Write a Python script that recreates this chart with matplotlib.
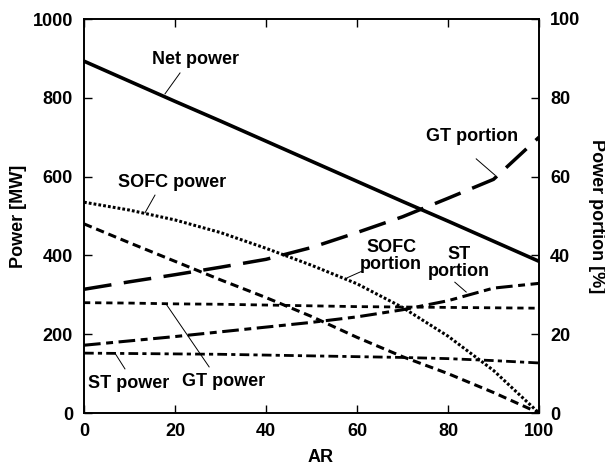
import numpy as np
import matplotlib.pyplot as plt

# === Data ===
AR = [0, 10, 20, 30, 40, 50, 60, 70, 80, 90, 100]

net_power = [893, 842, 791, 741, 690, 639, 588, 537, 487, 436, 385]        # MW
sofc_power = [535, 515, 490, 458, 418, 375, 328, 268, 195, 108, 0]         # MW
gt_power = [280, 279, 277, 276, 274, 272, 270, 269, 268, 267, 266]          # MW
st_power = [152, 151, 150, 149, 147, 145, 143, 141, 138, 133, 127]          # MW

sofc_portion = [48.0, 43.2, 38.5, 33.8, 29.3, 24.5, 19.2, 14.3, 10.0, 5.2, 0.0]   # %
gt_portion = [31.4, 33.3, 35.1, 37.0, 39.0, 42.0, 45.8, 49.8, 54.5, 59.3, 70.0]  # %
st_portion = [17.2, 18.3, 19.4, 20.6, 21.8, 23.0, 24.4, 26.2, 28.5, 31.7, 32.9]  # %

# === Style ===
plt.rcParams['font.family'] = ['Liberation Sans', 'DejaVu Sans']
plt.rcParams['font.weight'] = 'bold'
plt.rcParams['font.size'] = 13
plt.rcParams['lines.scale_dashes'] = False

fig = plt.figure(figsize=(6.05, 4.68), dpi=100)
ax = fig.add_axes([84 / 605, 1 - 413 / 468, 455 / 605, 394 / 468])
ax2 = ax.twinx()

# left axis: power
ax.plot(AR, net_power, color='black', lw=2.6, solid_capstyle='butt')
ax.plot(AR, sofc_power, color='black', lw=2.2, linestyle=(0, (2, 1.5)))
ax.plot(AR, gt_power, color='black', lw=2.0, linestyle=(0, (4.5, 3.5)))
ax.plot(AR, st_power, color='black', lw=2.0, linestyle=(0, (7, 3, 3, 3)))

# right axis: portion
ax2.plot(AR, sofc_portion, color='black', lw=2.2, linestyle=(0, (6, 3.5)))
ax2.plot(AR, gt_portion, color='black', lw=2.5, linestyle=(0, (20, 9)))
ax2.plot(AR, st_portion, color='black', lw=2.2, linestyle=(0, (12, 4, 5, 4)))

ax.set_xlim(0, 100)
ax.set_ylim(0, 1000)
ax2.set_ylim(0, 100)
ax.set_xticks(np.arange(0, 101, 20))
ax.set_yticks(np.arange(0, 1001, 200))
ax2.set_yticks(np.arange(0, 101, 20))

ax.tick_params(axis='x', direction='in', top=True, length=6, width=1, pad=7)
ax.tick_params(axis='y', direction='in', right=False, length=6, width=1, pad=8)
ax2.tick_params(axis='y', direction='in', length=6, width=1, pad=8)
for a in (ax, ax2):
    for s in a.spines.values():
        s.set_linewidth(1.2)

ax.set_xlabel('AR', fontweight='bold')
ax.set_ylabel('Power [MW]', fontweight='bold')
ax2.set_ylabel('Power portion [%]', fontweight='bold', rotation=270)
ax.xaxis.label.set_va('center')
ax.yaxis.label.set_va('center')
ax2.yaxis.label.set_va('center')
ax.xaxis.set_label_coords(0.52, -0.114)
ax.yaxis.set_label_coords(-0.145, 0.5)
ax2.yaxis.set_label_coords(1.127, 0.5)

# === Annotations with leader lines (data coords of the left axis) ===
labels = [
    ('Net power', (24.4, 896), (21.1, 863), (17.8, 810)),
    ('SOFC power', (19.3, 586), (15.6, 553), (13.4, 508)),
    ('GT portion', (85.3, 703), (86.2, 645), (90.3, 604)),
    ('SOFC\nportion', (67.5, 398), (61.1, 360), (57.8, 343)),
    ('ST\nportion', (82.4, 381), (81.5, 332), (84.0, 307)),
    ('GT power', (30.6, 81), (27.5, 117), (18.2, 274)),
    ('ST power', (9.9, 76), (9.0, 112), (6.8, 152)),
]
for text, pos, p0, p1 in labels:
    ax.text(pos[0], pos[1], text, ha='center', va='center', fontweight='bold',
            linespacing=1.0, zorder=5)
    ax.plot([p0[0], p1[0]], [p0[1], p1[1]], color='black', lw=0.7)

fig.savefig('out.png', dpi=100)
